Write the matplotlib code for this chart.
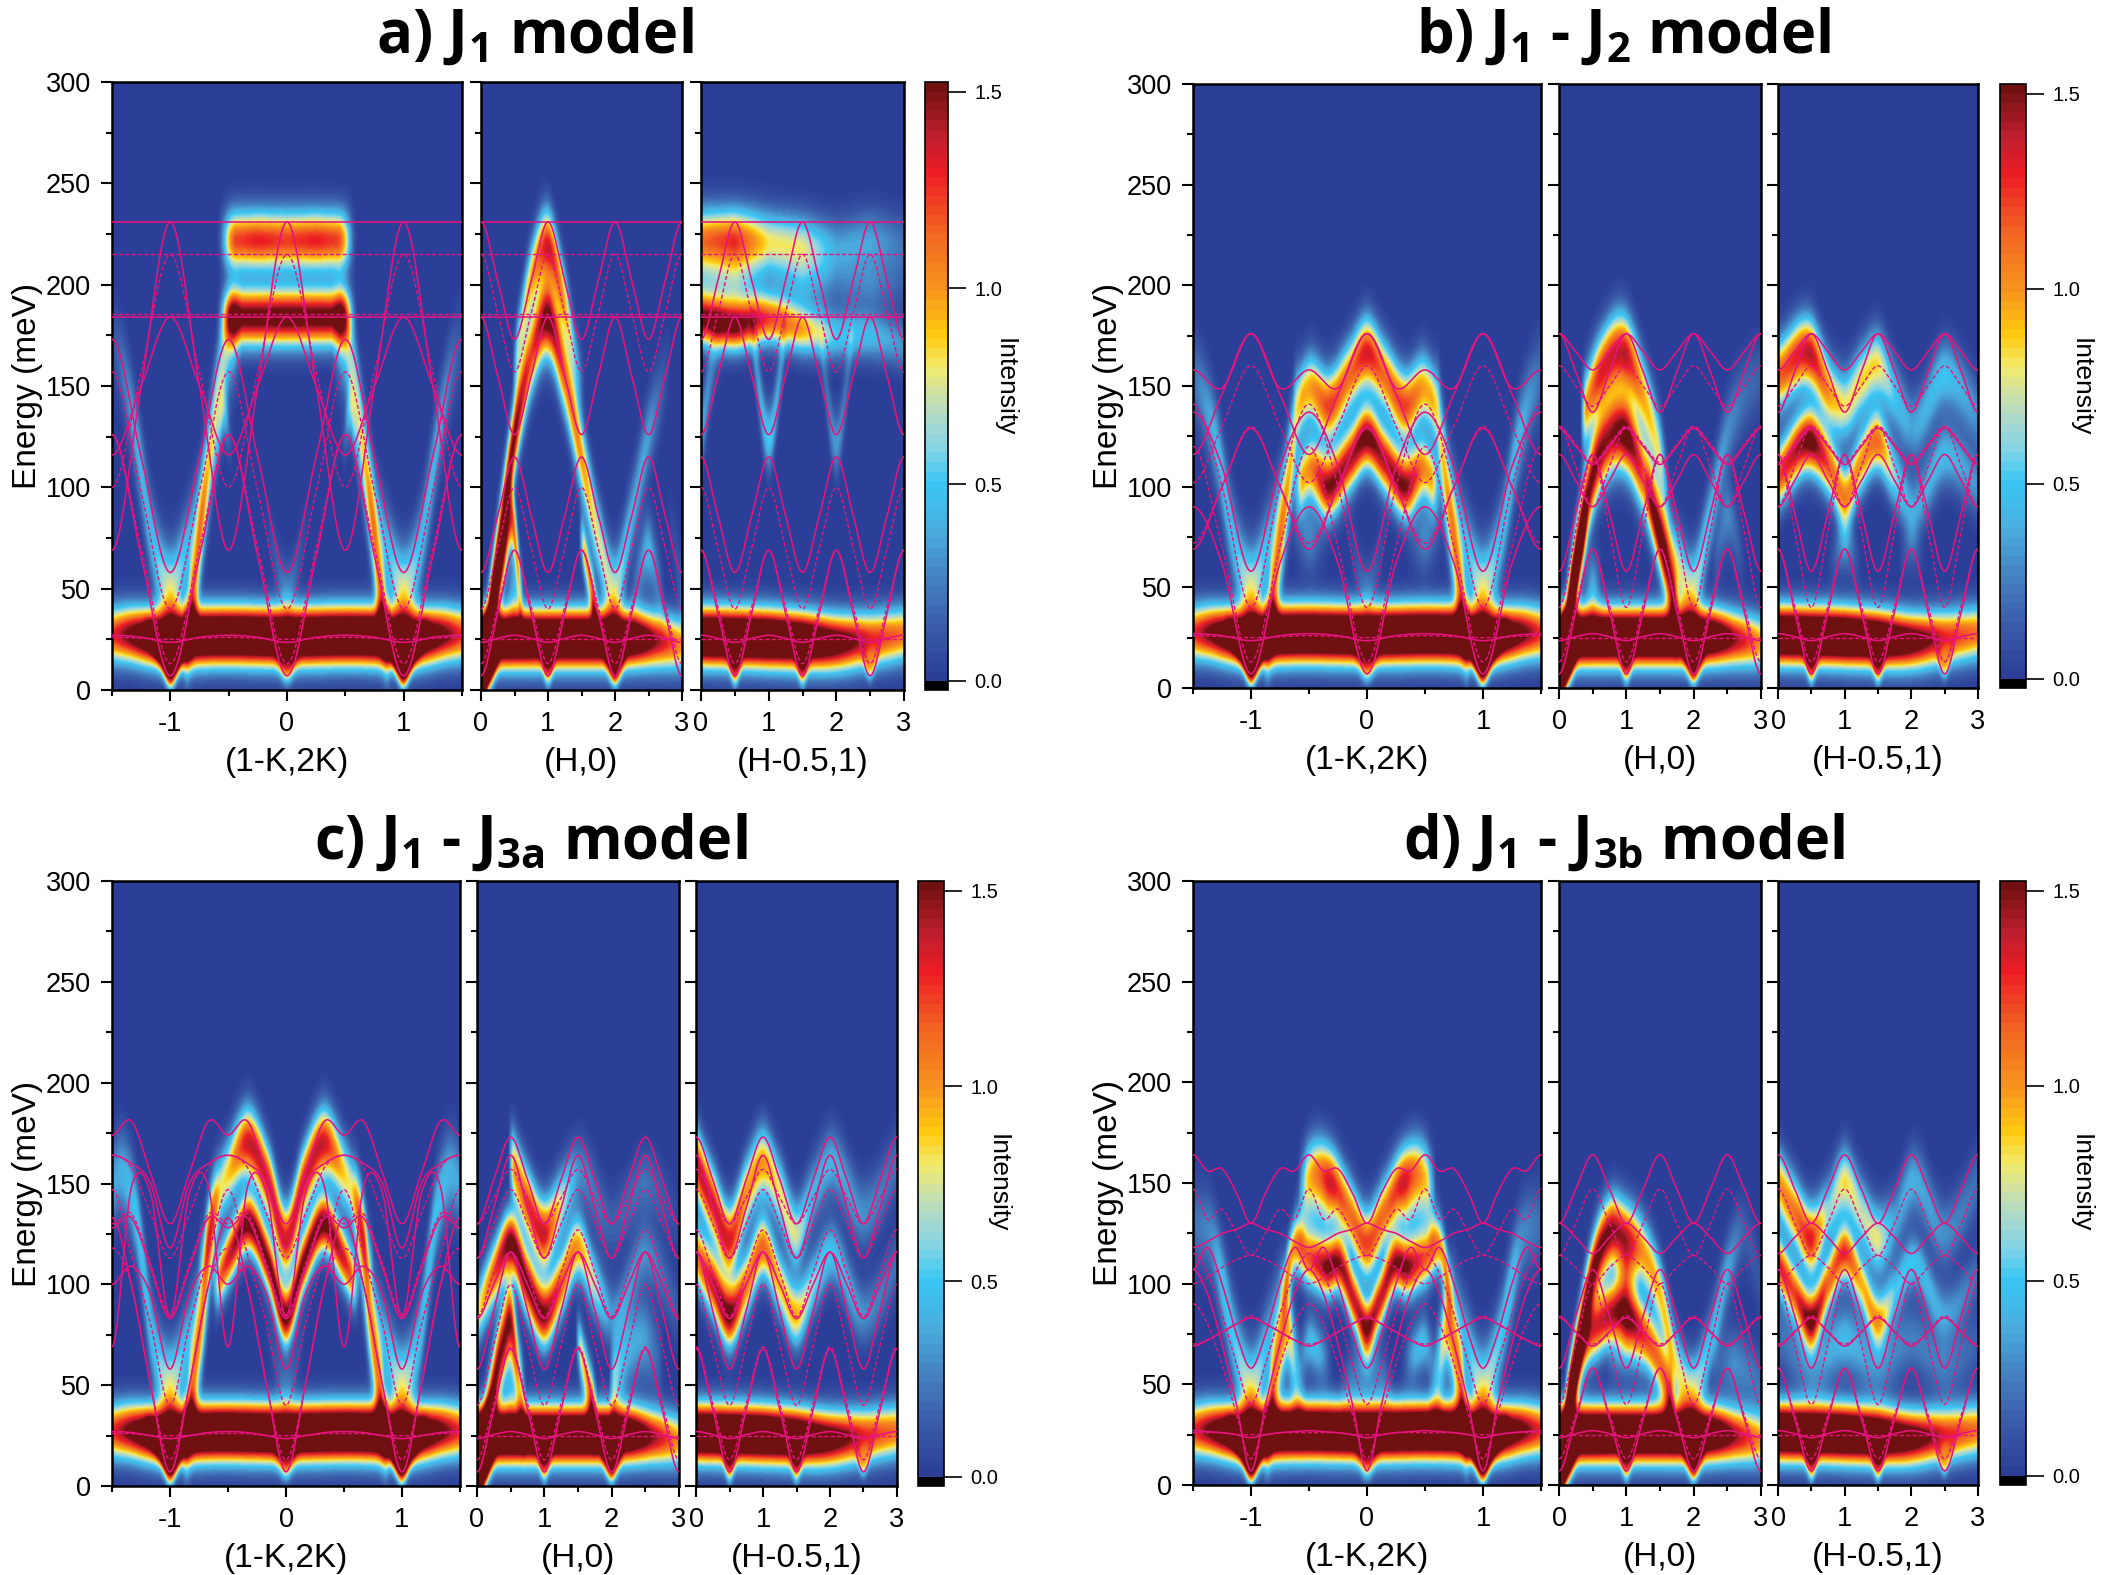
import numpy as np
import matplotlib
matplotlib.use("Agg")
import matplotlib.pyplot as plt
from matplotlib.colors import LinearSegmentedColormap, Normalize
from matplotlib.cm import ScalarMappable
from matplotlib.ticker import MultipleLocator, FixedLocator

plt.rcParams['font.family'] = ['Liberation Sans', 'DejaVu Sans']
plt.rcParams['mathtext.fontset'] = 'custom'
plt.rcParams['mathtext.bf'] = 'Open Sans:bold'
plt.rcParams['mathtext.rm'] = 'Open Sans:bold'
plt.rcParams['mathtext.default'] = 'bf'

W, H = 2124, 1575
TITLES = ["a) J$_{1}$ model", "b) J$_{1}$ - J$_{2}$ model", "c) J$_{1}$ - J$_{3a}$ model", "d) J$_{1}$ - J$_{3b}$ model"]
XLABELS = ["(1-K,2K)", "(H,0)", "(H-0.5,1)"]

# colour scale: intensity value, colour
CSTOPS = [(-0.024, '#000000'), (-0.0001, '#000000'), (0.0, '#2B3F99'), (0.12, '#3A5AA8'), (0.25, '#4480C0'),
          (0.38, '#4AAEDF'), (0.5, '#38C6F4'), (0.58, '#80D3E8'), (0.66, '#A9DACD'), (0.73, '#CFE0A5'),
          (0.8, '#F2EC6C'), (0.88, '#FFCB10'), (1.0, '#F7941D'), (1.15, '#F26522'), (1.3, '#ED1C24'),
          (1.4, '#BE1E2D'), (1.525, '#701010')]

# ---- magenta dispersion curves: values from an integer position to the next half-integer, evenly spaced
A_H_SOLID = [[231, 202, 173], [184, 155, 126], [58, 86, 115], [7, 38, 69], [23.5, 25.5, 27], [231, 231], [184, 184]]
A_H_DASH = [[215, 186, 157], [40, 70, 100], [13, 41, 69], [25, 25], [215, 215], [185.5, 185.5]]
A_K_SOLID = [[231, 150, 69], [184, 150, 116], [58, 115, 173], [7, 66, 126], [23.5, 26, 27], [231, 231], [184, 184]]
A_K_DASH = [[215, 157, 100], [40, 98, 157], [13, 70, 126], [25, 26], [215, 215], [185.5, 185.5]]

B_H_SOLID = [[176, 167, 158], [176, 157, 137], [129, 120, 111], [116, 103, 90], [58, 87, 116], [7, 38, 69], [23.5, 25.5, 27]]
B_H_DASH = [[160, 150, 140], [130, 121, 112], [130, 110, 90], [40, 78, 116], [13, 41, 69], [25, 25]]
B_K_SOLID = [[176, 149, 158], [176, 146, 116], [129, 100, 69], [58, 110, 137], [7, 62, 90], [23.5, 26, 27]]
B_K_DASH = [[160, 130, 102], [130, 100, 72], [40, 100, 141], [13, 70, 120], [25, 26]]

C_H_SOLID = [[130, 152, 173], [113, 138, 164], [83, 100, 116], [58, 87, 116], [7, 38, 68], [23.5, 25.5, 27]]
C_H_DASH = [[130, 143, 157], [113, 130, 147], [84, 106, 127], [40, 70, 100], [13, 41, 69], [25, 25]]
C_K_SOLID = [[130, 155, 181, 174], [83, 108, 133, 128], [58, 95, 109, 100], [7, 50, 100, 133], [84, 145, 148, 69], [118, 150, 160, 164], [23.5, 25, 26.5, 27]]
C_K_DASH = [[113, 135, 158, 164], [85, 110, 135, 130], [40, 80, 115, 147], [13, 50, 100, 118], [25, 25, 26, 26]]

D_H_SOLID = [[130, 147, 164], [130, 123, 115], [83, 76, 69], [58, 84, 107], [7, 33, 58], [23.5, 25.5, 27]]
D_H_DASH = [[114, 130, 147], [114, 108, 100], [84, 76, 70], [40, 70, 100], [13, 35, 58], [25, 25]]
D_K_SOLID = [[130, 145, 157, 156, 164], [130, 127, 125, 121, 118], [83, 80, 76, 72, 69], [58, 75, 100, 118, 107], [7, 40, 70, 95, 107], [23.5, 25, 26, 26.5, 27]]
D_K_DASH = [[114, 125, 137, 132, 147], [114, 112, 108, 103, 100], [84, 80, 76, 72, 70], [40, 60, 85, 105, 115], [13, 35, 60, 80, 90], [25, 25, 26, 26, 26]]

# ---- scattering bands: (width in meV, [(position, energy, intensity), ...])
LOW_K = [(9.3, [(0, 26, 2.5), (0.8, 26, 2.5), (1, 25, 2.4), (1.2, 26, 2.0), (1.35, 27, 1.6), (1.5, 27, 1.25)])]
NOTCH_K = [(5, [(0, 10, 0.8), (0.12, 20, 0)]), (5, [(0.78, 30, 0), (0.9, 20, 1.2), (1, 8, 1.5), (1.1, 20, 1.2), (1.22, 30, 0)])]
LOW_H = [(9.3, [(0, 25, 2.6), (1, 25, 2.5), (2, 25, 2.5), (2.3, 25, 2.1), (2.6, 24, 1.5), (3, 22, 1.0)])]
NOTCH_H = [(5, [(0.85, 22, 0), (1, 9, 0.9), (1.15, 22, 0)]), (5, [(1.8, 22, 0), (2, 9, 1.4), (2.2, 22, 0)]),
           (7, [(0, 6, 2.5), (0.15, 14, 2.5), (0.3, 24, 0)])]
LOW_R = [(9.3, [(0, 26, 2.5), (1, 25, 2.5), (1.5, 24, 2.3), (2, 23, 1.8), (2.5, 24.5, 1.3), (3, 27, 1.1)])]
NOTCH_R = [(5, [(0.35, 22, 0), (0.5, 9, 1.0), (0.65, 22, 0)]), (5, [(1.35, 22, 0), (1.5, 9, 0.9), (1.65, 22, 0)]),
           (4, [(2.35, 20, 0), (2.5, 10, 0.6), (2.65, 20, 0)])]

A_K = [(8.5, [(0, 222, 1.22), (0.25, 222, 1.3), (0.47, 222, 1.2), (0.58, 222, 0)]),
       (8, [(0, 184, 1.65), (0.47, 184, 1.6), (0.58, 184, 0)]),
       (14, [(0.86, 30, 1.0), (0.78, 60, 1.05), (0.72, 90, 1.0), (0.65, 120, 0.85), (0.58, 150, 0.7), (0.5, 170, 0.55), (0.42, 176, 0.3)]),
       (12, [(0.72, 100, 0.2), (0.85, 72, 0.4), (1, 50, 0.78), (1.15, 72, 0.45), (1.3, 125, 0.4), (1.42, 160, 0.2), (1.5, 172, 0.1)]),
       (8, [(0.48, 122, 0), (0.55, 138, 0.55), (0.62, 112, 0)]),
       (8, [(0, 50, 0.25), (0.2, 90, 0)])]
A_H = [(10, [(0.5, 160, 0.55), (0.75, 203, 0.95), (1, 219, 1.38), (1.25, 190, 0.95), (1.45, 157, 0.35), (1.55, 150, 0)]),
       (11, [(0, 0, 1.6), (0.25, 65, 1.6), (0.5, 125, 1.55), (0.75, 165, 1.2), (1, 183, 1.65), (1.25, 155, 1.15), (1.5, 115, 1.0), (1.75, 75, 0.75), (2, 50, 0.7), (2.25, 85, 0.4), (2.5, 125, 0.35), (2.75, 155, 0.1), (2.85, 170, 0)]),
       (9, [(0.15, 40, 0.9), (0.3, 60, 1.1), (0.47, 83, 1.25), (0.6, 45, 0.5)]),
       (7, [(1.5, 75, 0.85), (1.62, 55, 1.0), (1.72, 38, 1.1)]),
       (10, [(0.5, 50, 0.4)]),
       (10, [(2.25, 45, 0.1), (2.5, 68, 0.45), (2.72, 45, 0.1)]),
       (10, [(2.75, 100, 0), (3, 48, 0.15)])]
A_R = [(9, [(0, 222, 1.1), (0.5, 222, 1.25), (1, 221, 0.8), (1.5, 219, 0.75), (2, 218, 0.35), (2.5, 222, 0.35), (3, 220, 0.2)]),
       (7, [(0, 183, 1.55), (0.5, 180, 1.6), (1, 183, 1.2), (1.5, 178, 0.95), (2, 175, 0.5), (2.5, 175, 0.45), (3, 170, 0.3)]),
       (8, [(0, 200, 0.3), (0.5, 200, 0.45), (1, 200, 0.1), (1.5, 200, 0.3), (2, 200, 0.15), (2.5, 200, 0.25), (3, 200, 0.1)]),
       (9, [(0.75, 175, 0.2), (1, 125, 0.55), (1.25, 175, 0.2)]),
       (9, [(1.75, 175, 0.1), (2, 122, 0.35), (2.25, 175, 0.1)]),
       (10, [(0, 125, 0.4), (0.2, 165, 0.2), (0.35, 175, 0)])]

B_K = [(10, [(0, 166, 1.38), (0.15, 155, 1.1), (0.33, 140, 1.25), (0.5, 148, 0.95), (0.6, 140, 0.95)]),
       (9, [(0, 124, 1.6), (0.15, 113, 1.4), (0.33, 100, 1.55), (0.5, 108, 1.0), (0.6, 100, 0.9)]),
       (14, [(0.86, 30, 1.0), (0.78, 60, 1.05), (0.72, 85, 1.0), (0.65, 115, 0.9), (0.6, 135, 0.7)]),
       (12, [(0.72, 100, 0.2), (0.85, 72, 0.4), (1, 50, 0.78), (1.15, 72, 0.45), (1.3, 120, 0.45), (1.42, 145, 0.3), (1.5, 155, 0.2)]),
       (10, [(0.32, 80, 0), (0.5, 75, 0.3), (0.68, 85, 0)]),
       (8, [(0, 50, 0.2), (0.2, 90, 0)])]
B_H = [(11, [(0.35, 135, 0.9), (0.6, 155, 1.3), (1, 165, 1.4), (1.25, 145, 0.95), (1.5, 115, 0.75), (1.65, 90, 0)]),
       (11, [(0, 0, 1.6), (0.25, 60, 1.6), (0.5, 105, 1.55), (0.75, 124, 1.45), (1, 125, 1.65), (1.25, 105, 1.2), (1.5, 80, 0.95), (1.75, 60, 0.75), (2, 50, 0.7), (2.25, 85, 0.45), (2.5, 125, 0.3), (2.75, 145, 0.2), (3, 155, 0.15)]),
       (9, [(0.15, 40, 0.9), (0.28, 65, 0.9), (0.4, 85, 0.5)]),
       (9, [(1.3, 100, 0.3), (1.55, 65, 1.0), (1.75, 38, 1.1)]),
       (10, [(0.5, 50, 0.4)]),
       (10, [(2.3, 60, 0.1), (2.5, 85, 0.3), (2.75, 60, 0.05)])]
B_R = [(10, [(0, 155, 1.15), (0.5, 165, 1.42), (0.8, 145, 0.95), (1, 140, 0.8), (1.25, 152, 0.85), (1.5, 160, 0.85), (1.75, 145, 0.5), (2, 130, 0.35), (2.5, 155, 0.5), (3, 135, 0.3)]),
       (9, [(0, 105, 1.2), (0.5, 122, 1.62), (0.8, 108, 1.1), (1, 95, 1.05), (1.25, 112, 1.0), (1.5, 122, 1.15), (1.75, 105, 0.6), (2, 90, 0.35), (2.5, 115, 0.45), (3, 100, 0.3)]),
       (8, [(0.75, 60, 0), (1, 72, 0.35), (1.25, 60, 0)]),
       (8, [(1.8, 60, 0), (2, 72, 0.2), (2.2, 60, 0)])]

C_K = [(10, [(0, 122, 1.35), (0.15, 150, 1.35), (0.33, 170, 1.4), (0.5, 155, 0.85), (0.62, 138, 0.75), (0.72, 110, 0.7)]),
       (8, [(0, 84, 1.62), (0.15, 110, 1.55), (0.33, 130, 1.62), (0.48, 115, 1.4), (0.6, 100, 1.05)]),
       (14, [(0.86, 30, 1.0), (0.78, 60, 1.05), (0.72, 85, 0.95), (0.66, 115, 0.75), (0.6, 135, 0.5)]),
       (12, [(0.72, 100, 0.2), (0.85, 72, 0.4), (1, 50, 0.78), (1.15, 72, 0.45), (1.3, 135, 0.5), (1.42, 155, 0.4), (1.5, 150, 0.35)]),
       (8, [(0, 50, 0.2), (0.2, 90, 0)])]
C_H = [(10, [(0.5, 162, 0.95), (0.75, 140, 1.25), (1, 125, 1.4), (1.25, 140, 0.75), (1.5, 155, 0.3), (2, 130, 0.15), (2.5, 150, 0.22), (3, 130, 0.05)]),
       (9, [(0, 85, 0.75), (0.25, 105, 1.2), (0.5, 120, 1.62), (0.75, 100, 1.55), (1, 85, 1.55), (1.25, 100, 1.2), (1.5, 118, 1.0), (1.75, 100, 0.7), (2, 85, 0.3), (2.5, 115, 0.3), (3, 85, 0.12)]),
       (11, [(0, 0, 1.6), (0.2, 40, 1.6), (0.38, 70, 1.5), (0.5, 80, 1.55), (0.62, 55, 0.8), (0.7, 40, 0.5)]),
       (8, [(1.5, 72, 0.75), (1.62, 55, 0.95), (1.75, 38, 1.1)]),
       (10, [(0.5, 50, 0.35)]),
       (12, [(2, 50, 0.65), (2.25, 68, 0.4), (2.5, 72, 0.35), (2.75, 60, 0.1)])]
C_R = [(10, [(0, 160, 1.4), (0.25, 140, 1.35), (0.5, 122, 1.35), (0.75, 145, 1.0), (1, 160, 1.0), (1.25, 145, 0.8), (1.5, 125, 0.75), (1.75, 145, 0.4), (2, 160, 0.4), (2.5, 135, 0.3), (3, 160, 0.2)]),
       (9, [(0, 115, 1.1), (0.25, 100, 1.4), (0.5, 85, 1.62), (0.75, 100, 1.1), (1, 118, 1.15), (1.25, 100, 0.9), (1.5, 85, 0.95), (1.75, 100, 0.6), (2, 115, 0.5), (2.5, 85, 0.3), (3, 110, 0.2)])]

D_K = [(10, [(0, 120, 1.25), (0.15, 135, 1.1), (0.3, 150, 1.32), (0.47, 155, 0.95), (0.56, 150, 0.6)]),
       (8, [(0, 78, 1.55), (0.1, 90, 1.35), (0.25, 110, 1.5), (0.33, 108, 1.58), (0.5, 112, 1.1), (0.65, 115, 1.0), (0.72, 95, 0.8)]),
       (13, [(0.86, 30, 1.0), (0.78, 60, 1.05), (0.68, 78, 1.0), (0.62, 60, 0.5), (0.56, 45, 0.2)]),
       (12, [(0.72, 100, 0.2), (0.85, 72, 0.4), (1, 48, 0.78), (1.15, 72, 0.5), (1.25, 100, 0.5), (1.33, 120, 0.3), (1.5, 130, 0.2)]),
       (8, [(0.3, 60, 0), (0.4, 65, 0.4), (0.5, 70, 0.5), (0.6, 60, 0)]),
       (9, [(0, 58, 0.3), (0.2, 50, 0.15)]),
       (10, [(0.3, 135, 0.3), (0.6, 132, 0.3)])]
D_H = [(10, [(0, 0, 1.6), (0.25, 60, 1.55), (0.5, 105, 1.62), (0.75, 125, 1.55), (1, 123, 1.35), (1.25, 115, 1.0), (1.5, 95, 0.9), (1.75, 58, 0.8), (2, 48, 0.7), (2.25, 70, 0.45), (2.5, 105, 0.38), (2.75, 125, 0.15), (3, 100, 0.1)]),
       (9, [(0.12, 42, 1.0), (0.3, 65, 1.1), (0.6, 80, 1.35), (1, 85, 1.55), (1.25, 75, 1.25), (1.5, 60, 1.1), (1.7, 40, 1.15)]),
       (8, [(0.8, 105, 0), (1, 105, 0.55), (1.2, 105, 0)]),
       (8, [(0.7, 60, 0), (1, 68, 0.45), (1.3, 60, 0)]),
       (10, [(2.3, 60, 0.1), (2.6, 60, 0.3), (3, 50, 0.2)])]
D_R = [(10, [(0, 150, 1.0), (0.25, 135, 1.1), (0.5, 122, 1.35), (0.75, 135, 0.6), (1, 150, 0.85), (1.25, 135, 0.7), (1.5, 122, 0.8), (1.75, 130, 0.35), (2, 150, 0.4), (2.5, 125, 0.3), (3, 150, 0.2)]),
       (8, [(0, 110, 1.3), (0.25, 95, 1.2), (0.5, 82, 1.62), (0.75, 100, 1.1), (1, 115, 1.3), (1.25, 100, 0.9), (1.5, 82, 1.0), (1.75, 95, 0.5), (2, 110, 0.5), (2.5, 85, 0.35), (3, 105, 0.2)]),
       (10, [(0, 75, 0.2), (0.5, 60, 0.3), (1, 72, 0.45), (1.5, 60, 0.3), (2, 72, 0.25), (2.5, 60, 0.25), (3, 70, 0.15)])]

# ---- layout: pixel edges (left, right) for the panels and colour bar, (top, bottom)
BOXES = {
    'a': ([(112, 462), (481, 682), (701, 904)], (925, 948), (82, 690), (1005, 387)),
    'b': ([(1193, 1541), (1559, 1761), (1778, 1978)], (2000, 2026), (84, 688), (2081, 387)),
    'c': ([(112, 460), (477, 679), (696, 897)], (918, 944), (881, 1486), (998, 1183)),
    'd': ([(1193, 1541), (1559, 1761), (1778, 1978)], (2000, 2026), (881, 1485), (2081, 1183)),
}
TITLE_POS = {'a': (535, 37), 'b': (1624, 37), 'c': (531, 843), 'd': (1624, 843)}
KEYS = ['a', 'b', 'c', 'd']
MODELS = {
    'a': (A_K, A_H, A_R, A_K_SOLID, A_K_DASH, A_H_SOLID, A_H_DASH),
    'b': (B_K, B_H, B_R, B_K_SOLID, B_K_DASH, B_H_SOLID, B_H_DASH),
    'c': (C_K, C_H, C_R, C_K_SOLID, C_K_DASH, C_H_SOLID, C_H_DASH),
    'd': (D_K, D_H, D_R, D_K_SOLID, D_K_DASH, D_H_SOLID, D_H_DASH),
}

VMIN, VMAX = CSTOPS[0][0], CSTOPS[-1][0]
cmap = LinearSegmentedColormap.from_list(
    'inten', [((v - VMIN) / (VMAX - VMIN), c) for v, c in CSTOPS], N=64)
norm = Normalize(VMIN, VMAX)
PINK = '#E6147F'
EGRID = np.linspace(0, 300, 451)
WIDEN = 1.18


def widened(bands):
    return [(s * WIDEN, p) for s, p in bands]


def mirrored(bands):
    out = []
    for s, pts in bands:
        neg = [(-x, e, i) for x, e, i in reversed(pts)]
        if pts[0][0] == 0:
            out.append((s, neg[:-1] + list(pts)))
        else:
            out.append((s, list(pts)))
            out.append((s, neg))
    return out


def hermite(x, px, py):
    px = np.asarray(px, float)
    py = np.asarray(py, float)
    if px.size < 3:
        return np.interp(x, px, py)
    m = np.gradient(py, px)
    i = np.clip(np.searchsorted(px, x) - 1, 0, px.size - 2)
    h = px[i + 1] - px[i]
    t = np.clip((x - px[i]) / h, 0, 1)
    return ((2 * t**3 - 3 * t**2 + 1) * py[i] + (t**3 - 2 * t**2 + t) * h * m[i]
            + (-2 * t**3 + 3 * t**2) * py[i + 1] + (t**3 - t**2) * h * m[i + 1])


def heat(bands, xmin, xmax):
    xg = np.linspace(xmin, xmax, 500)
    Z = np.zeros((EGRID.size, xg.size))
    win = 13
    ker = np.ones(win) / win
    for s, pts in bands:
        pts = sorted(pts, key=lambda p: p[0])
        px = [p[0] for p in pts]
        pe = [p[1] for p in pts]
        pi = [p[2] for p in pts]
        if len(pts) == 1:
            px = [px[0] - 0.15, px[0], px[0] + 0.15]
            pe = [pe[0], pe[0], pe[0]]
            pi = [0, pi[0], 0]
        E = hermite(xg, px, pe)
        I = np.interp(xg, px, pi, left=0, right=0)
        I = np.convolve(np.pad(I, win // 2, mode='edge'), ker, mode='valid')
        Z += I[None, :] * np.exp(-(EGRID[:, None] - E[None, :]) ** 2 / (2 * s * s))
    return Z + 0.004


def curve(profile, xmin, xmax, shift=0.0):
    per = list(profile) + list(profile[-2:0:-1])
    m = len(per)
    step = 1.0 / m
    k0 = int(np.floor((xmin + shift) / step)) - 2
    k1 = int(np.ceil((xmax + shift) / step)) + 2
    ks = np.arange(k0, k1 + 1)
    yk = np.array([per[k % m] for k in ks], float)
    xk = ks * step - shift
    x = np.linspace(xmin, xmax, 700)
    i = np.clip(np.searchsorted(xk, x) - 1, 1, len(xk) - 3)
    t = (x - xk[i]) / step
    p0, p1, p2, p3 = yk[i - 1], yk[i], yk[i + 1], yk[i + 2]
    y = 0.5 * (2 * p1 + (p2 - p0) * t + (2 * p0 - 5 * p1 + 4 * p2 - p3) * t ** 2 + (3 * p1 - p0 - 3 * p2 + p3) * t ** 3)
    return x, y


def make_axes(fig, xs, ys):
    l, r = xs
    t, b = ys
    return fig.add_axes([l / W, 1 - b / H, (r - l) / W, (b - t) / H])


fig = plt.figure(figsize=(W / 100, H / 100), dpi=100, facecolor='white')

for key, title in zip(KEYS, TITLES):
    panels, cb, ys, ilabel = BOXES[key]
    k_b, h_b, r_b, k_s, k_d, h_s, h_d = MODELS[key]
    spec = [
        (mirrored(widened(k_b) + NOTCH_K) + [(s, [(-x, e, i) for x, e, i in reversed(p[1:])] + list(p)) for s, p in LOW_K], -1.5, 1.5, k_s, k_d, 0.0),
        (widened(h_b) + LOW_H + NOTCH_H, 0, 3, h_s, h_d, 0.0),
        (widened(r_b) + LOW_R + NOTCH_R, 0, 3, h_s, h_d, 0.5),
    ]
    for j, (bands, x0, x1, sol, das, sh) in enumerate(spec):
        ax = make_axes(fig, panels[j], ys)
        Z = heat(bands, x0, x1)
        ax.imshow(Z, origin='lower', extent=(x0, x1, 0, 300), aspect='auto', cmap=cmap, norm=norm, interpolation='bilinear')
        for prof in sol:
            x, y = curve(prof, x0, x1, sh)
            ax.plot(x, y, color=PINK, lw=1.15, zorder=3)
        for prof in das:
            x, y = curve(prof, x0, x1, sh)
            ax.plot(x, y, color=PINK, lw=1.0, ls=(0, (3, 1.6)), zorder=3)
        ax.set_xlim(x0, x1)
        ax.set_ylim(0, 300)
        ax.yaxis.set_major_locator(MultipleLocator(50))
        ax.yaxis.set_minor_locator(MultipleLocator(25))
        if j == 0:
            ax.xaxis.set_major_locator(FixedLocator([-1, 0, 1]))
            ax.xaxis.set_minor_locator(FixedLocator([-1.5, -0.5, 0.5, 1.5]))
            ax.set_xticklabels(['-1', '0', '1'])
            ax.set_ylabel('Energy (meV)', fontsize=24, labelpad=2)
        else:
            ax.xaxis.set_major_locator(FixedLocator([0, 1, 2, 3]))
            ax.xaxis.set_minor_locator(FixedLocator([0.5, 1.5, 2.5]))
            ax.set_xticklabels(['0', '1', '2', '3'])
            ax.tick_params(axis='y', labelleft=False)
        ax.tick_params(which='major', length=8, width=1.5, labelsize=19.5, pad=7)
        ax.tick_params(which='minor', length=4.5, width=1.5)
        ax.set_xlabel(XLABELS[j], fontsize=24, labelpad=7)
        for sp in ax.spines.values():
            sp.set_linewidth(1.8)
    cax = make_axes(fig, cb, ys)
    cbar = fig.colorbar(ScalarMappable(norm=norm, cmap=cmap), cax=cax)
    cbar.set_ticks([0, 0.5, 1.0, 1.5])
    cbar.ax.tick_params(length=13, width=1.2, labelsize=14.5, pad=6)
    cbar.outline.set_linewidth(1.2)
    fig.text(ilabel[0] / W, 1 - ilabel[1] / H, 'Intensity', rotation=270, ha='center', va='center', fontsize=19)
    tp = TITLE_POS[key]
    fig.text(tp[0] / W, 1 - tp[1] / H, title, ha='center', va='center', fontsize=43, color='black',
             family='Open Sans', fontweight='bold')

fig.savefig('out.png', dpi=100)
